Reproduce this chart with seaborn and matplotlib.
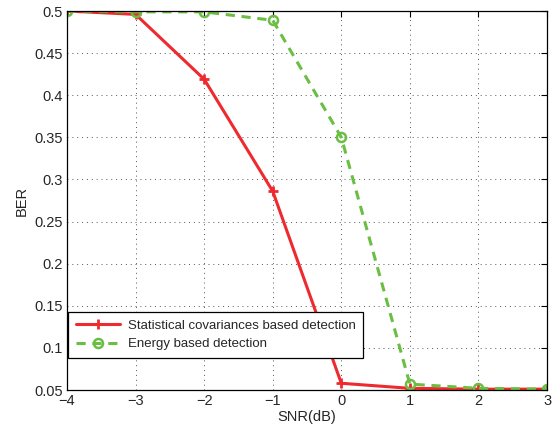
import matplotlib
matplotlib.use("Agg")
import matplotlib.pyplot as plt
import seaborn as sns
import pandas as pd

snr = [-4, -3, -2, -1, 0, 1, 2, 3]
ber_cov = [0.500, 0.496, 0.419, 0.286, 0.058, 0.052, 0.051, 0.051]
ber_energy = [0.500, 0.499, 0.499, 0.489, 0.350, 0.057, 0.052, 0.051]
label_cov = "Statistical covariances based detection"
label_energy = "Energy based detection"
xticks = [-4, -3, -2, -1, 0, 1, 2, 3]
yticks = [0.05, 0.1, 0.15, 0.2, 0.25, 0.3, 0.35, 0.4, 0.45, 0.5]
ytick_labels = ["0.05", "0.1", "0.15", "0.2", "0.25", "0.3", "0.35", "0.4", "0.45", "0.5"]

sns.set_style("white")
plt.rcParams['font.family'] = ['Liberation Sans', 'DejaVu Sans']
plt.rcParams['xtick.direction'] = 'in'
plt.rcParams['ytick.direction'] = 'in'

fig = plt.figure(figsize=(5.52, 4.32), dpi=100)
ax = fig.add_axes([0.1214, 0.0972, 0.8696, 0.8773])

df = pd.DataFrame({"snr": snr, "cov": ber_cov, "energy": ber_energy})
sns.lineplot(data=df, x="snr", y="cov", ax=ax, color="#ee2a2f", lw=2.2,
             marker="+", markersize=7, markeredgewidth=2, markeredgecolor="#ee2a2f",
             label=label_cov)
sns.lineplot(data=df, x="snr", y="energy", ax=ax, color="#6abf43", lw=2.2,
             linestyle=(0, (3, 2.2)), marker="o", markersize=6.5, markeredgewidth=1.8,
             markerfacecolor="none", markeredgecolor="#6abf43",
             label=label_energy)

ax.set_xlim(-4, 3)
ax.set_ylim(0.05, 0.5)
ax.set_xticks(xticks)
ax.set_yticks(yticks)
ax.set_yticklabels(ytick_labels)
ax.tick_params(labelsize=10.5, length=4, width=0.8, color="black", top=True, right=True, pad=3)
ax.grid(True, linestyle=(0, (1, 4)), color="#555555", lw=0.7)
for s in ax.spines.values():
    s.set_color("black")
    s.set_linewidth(0.9)
ax.set_xlabel("SNR(dB)", fontsize=10.5, labelpad=1)
ax.set_ylabel("BER", fontsize=10.5, labelpad=4)

leg = ax.legend(loc="lower left", bbox_to_anchor=(0.0, 0.082), fontsize=9.5,
                frameon=True, fancybox=False, edgecolor="black", framealpha=1,
                borderpad=0.55, handlelength=3.4, handletextpad=0.6,
                labelspacing=0.5, borderaxespad=0.1)
leg.get_frame().set_linewidth(0.9)

fig.savefig("out.png", dpi=100)
